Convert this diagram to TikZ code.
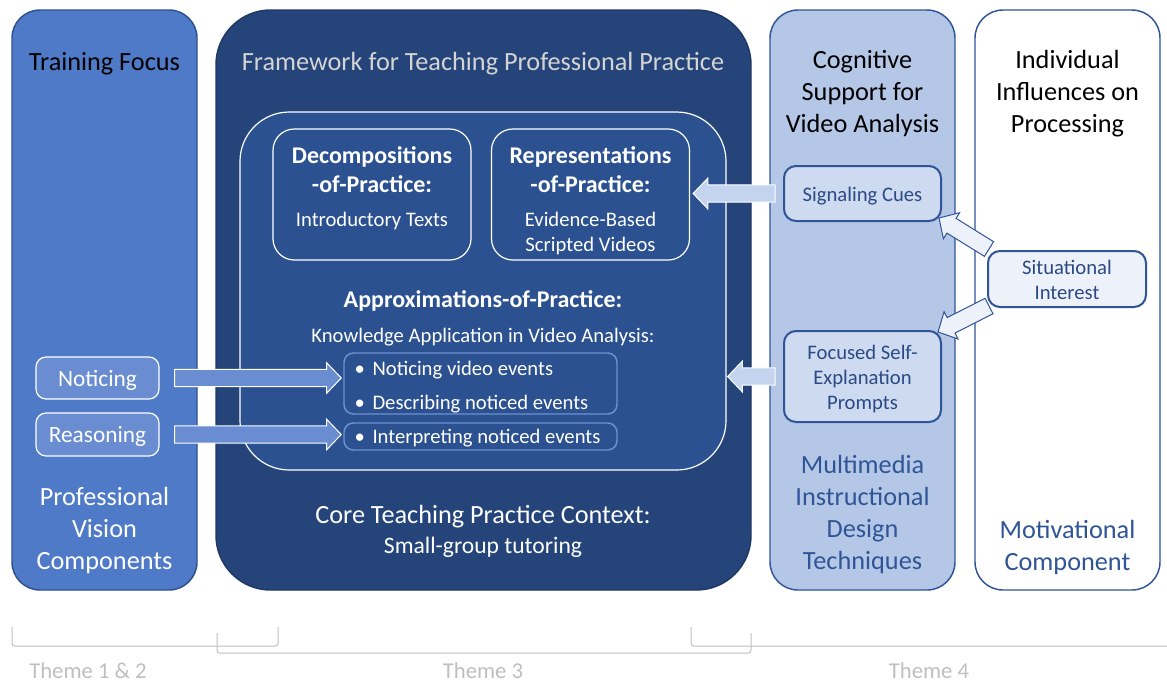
\documentclass[tikz,border=0pt]{standalone}
\usepackage{fontspec}
\setmainfont{Carlito}
\usetikzlibrary{calc}

\definecolor{focusfill}{HTML}{4F7AC7}
\definecolor{focusline}{HTML}{2F528F}
\definecolor{frameworkfill}{HTML}{25457A}
\definecolor{frameworkline}{HTML}{1F3864}
\definecolor{corefill}{HTML}{2C5190}
\definecolor{bulletline}{HTML}{6E91D2}
\definecolor{pvfill}{HTML}{698DD0}
\definecolor{cogfill}{HTML}{B4C7E7}
\definecolor{cogline}{HTML}{2F5597}
\definecolor{cuefill}{HTML}{CDDAF0}
\definecolor{cuearrow}{HTML}{C5D4EE}
\definecolor{interestfill}{HTML}{EDF1F9}
\definecolor{cuetext}{HTML}{2B4A85}
\definecolor{titlegray}{HTML}{D4D4D4}
\definecolor{themegray}{HTML}{BFBFBF}

% block arrow from #2 to the tip #3
\newcommand{\fatarrow}[3][]{%
	\coordinate (hb) at ($(#3)!11pt!(#2)$);
	\draw[#1] ($(#2)!6.5pt!90:(#3)$) -- ($(hb)!6.5pt!90:(#3)$) -- ($(hb)!11.5pt!90:(#3)$) -- (#3)
		-- ($(hb)!11.5pt!-90:(#3)$) -- ($(hb)!6.5pt!-90:(#3)$) -- ($(#2)!6.5pt!-90:(#3)$) -- cycle;}

\begin{document}
\begin{tikzpicture}[x=0.75pt,y=-0.75pt]

	\tikzstyle{column}=[rectangle,draw,line width=1.1pt,minimum width=138.75pt,minimum height=435pt,rounded corners=21pt]
	\tikzstyle{title}=[align=center,font=\fontsize{19.7}{24}\selectfont]
	\tikzstyle{subhead}=[align=center,text=white,font=\bfseries\fontsize{18}{21.75}\selectfont]
	\tikzstyle{small}=[align=center,font=\fontsize{15.5}{18.75}\selectfont]
	\tikzstyle{practice}=[rectangle,draw=white,line width=0.9pt,minimum width=148.5pt,minimum height=98.25pt,rounded corners=16pt]
	\tikzstyle{bullets}=[rectangle,draw=bulletline,line width=1.1pt,fill=corefill,rounded corners=7pt,minimum width=204.75pt]
	\tikzstyle{bullettext}=[anchor=west,align=left,text=white,font=\fontsize{15.5}{18.75}\selectfont,inner sep=0pt]
	\tikzstyle{pv}=[rectangle,draw=white,line width=0.9pt,fill=pvfill,rounded corners=7.5pt,minimum width=92.25pt]
	\tikzstyle{pvtext}=[text=white,font=\fontsize{17.5}{21}\selectfont]
	\tikzstyle{support}=[rectangle,draw=cogline,line width=1.5pt,fill=cuefill,rounded corners=9pt,minimum width=117.75pt]
	\tikzstyle{supporttext}=[small,text=cuetext]
	\tikzstyle{theme}=[draw=themegray,line width=0.75pt,rounded corners=2pt]
	\tikzstyle{themetext}=[text=themegray,font=\fontsize{17}{20}\selectfont,inner sep=0pt]

	\useasboundingbox (0,0) rectangle (1167,683);

	% four columns
	\node [column,draw=focusline,fill=focusfill] (focus) at (104.5,300) {};
	\node [column,draw=frameworkline,fill=frameworkfill,minimum width=401.25pt,rounded corners=41pt] (framework) at (483.5,300) {};
	\node [column,draw=cogline,fill=cogfill] (cognitive) at (862.5,300) {};
	\node [column,draw=cogline,fill=white] (individual) at (1067.5,300) {};

	\node [title] (tfocus) at (104.5,64) {Training Focus};
	\node [title,text=white] (pvc) at (104.5,530) {Professional\\Vision\\Components};
	\node [title,text=titlegray] (fwtitle) at (483,64) {Framework for Teaching Professional Practice};
	\node [title] (cogtitle) at (862.5,94) {Cognitive\\Support for\\Video Analysis};
	\node [title,text=cogline] (mmtitle) at (862.5,514.5) {Multimedia\\Instructional\\Design\\Techniques};
	\node [title] (indtitle) at (1067.5,94) {Individual\\Influences on\\Processing};
	\node [title,text=cogline] (mottitle) at (1067.5,547) {Motivational\\Component};

	% teaching practice core
	\node [rectangle,draw=white,line width=0.9pt,fill=corefill,minimum width=364.5pt,minimum height=268.5pt,rounded corners=37pt] (inner) at (483,291) {};
	\node [practice] (decomp) at (372,194.5) {};
	\node [practice] (repr) at (590.5,194.5) {};
	\node [subhead] (decomptext) at (372,170) {Decompositions\\-of-Practice:};
	\node [small,text=white] (introtext) at (372,221) {Introductory Texts};
	\node [subhead] (reprtext) at (590.5,170) {Representations\\-of-Practice:};
	\node [small,text=white] (videotext) at (590.5,233) {Evidence-Based\\Scripted Videos};
	\node [subhead] (approx) at (483,301) {Approximations-of-Practice:};
	\node [small,text=white] (knowledge) at (483,337) {Knowledge Application in Video Analysis:};

	\node [bullets,minimum height=45.75pt] (bul1) at (480.5,383.5) {};
	\node [bullets,minimum height=20.25pt] (bul2) at (480.5,436.5) {};
	\node [bullettext] (bul1text) at ($(bul1.west)+(11,4)$)
		{\makebox[13.5pt][l]{•}Noticing video events\\[6.75pt]\makebox[13.5pt][l]{•}Describing noticed events};
	\node [bullettext] (bul2text) at ($(bul2.west)+(11,2)$)
		{\makebox[13.5pt][l]{•}Interpreting noticed events};

	\node [title,text=white] (core) at (483,517) {Core Teaching Practice Context:};
	\node [title,text=white,font=\fontsize{17.7}{21}\selectfont] (tutoring) at (483,547) {Small-group tutoring};

	% professional vision components
	\node [pv,minimum height=31.5pt] (notice) at (97.5,378) {};
	\node [pv,minimum height=32.25pt] (reason) at (97.5,434.5) {};
	\node [pvtext] (noticetext) at ($(notice)+(0,2)$) {Noticing};
	\node [pvtext] (reasontext) at ($(reason)+(0,2)$) {Reasoning};

	% design techniques and interest
	\node [support,minimum height=41.25pt] (sig) at (862.5,193.5) {};
	\node [support,minimum height=68.25pt] (prompt) at (862.5,376.5) {};
	\node [support,fill=interestfill,minimum width=118.5pt,minimum height=42pt] (sit) at (1067,279) {};
	\node [supporttext] (sigtext) at ($(sig)+(0,3)$) {Signaling Cues};
	\node [supporttext] (prompttext) at ($(prompt)+(0,2)$) {Focused Self-\\Explanation\\Prompts};
	\node [supporttext] (sittext) at ($(sit)+(0,1)$) {Situational\\Interest};

	% arrows
	\coordinate (nA) at ($(notice.east)+(15,0)$);
	\coordinate (nB) at ($(notice.east -| bul1.west)+(-2,0)$);
	\coordinate (rA) at ($(reason.east)+(15,0)$);
	\coordinate (rB) at ($(reason.east -| bul2.west)+(-2,0)$);
	\coordinate (sA) at ($(sig.west)+(-8,0)$);
	\coordinate (sB) at ($(sig.west -| repr.east)+(3,0)$);
	\coordinate (pA) at ($(prompt.west)+(-8,0)$);
	\coordinate (pB) at ($(prompt.west -| inner.east)+(1,0)$);
	\coordinate (iA) at ($(sit.north west)+(2,-1)$);
	\coordinate (iB) at ($(sig.south east)+(-3,-4)$);
	\coordinate (jA) at ($(sit.south west)+(2,-2)$);
	\coordinate (jB) at ($(prompt.north east)+(-4,2)$);

	\fatarrow[draw=white,line width=0.75pt,fill=pvfill]{nA}{nB}
	\fatarrow[draw=white,line width=0.75pt,fill=pvfill]{rA}{rB}
	\fatarrow[draw=white,line width=0.75pt,fill=cuearrow]{sA}{sB}
	\fatarrow[draw=white,line width=0.75pt,fill=cuearrow]{pA}{pB}
	\fatarrow[draw=cogline,line width=0.75pt,fill=interestfill]{iA}{iB}
	\fatarrow[draw=cogline,line width=0.75pt,fill=interestfill]{jA}{jB}

	% themes
	\draw [theme] (12,627) -- (12,646) -- (278,646) -- (278,627);
	\draw [theme] (217,633) -- (217,653) -- (751,653) -- (751,633);
	\draw [theme] (691,627) -- (691,646) -- (1170,646);
	\node [themetext] (theme12) at (88,671) {Theme 1 \& 2};
	\node [themetext] (theme3) at (483,671) {Theme 3};
	\node [themetext] (theme4) at (929,671) {Theme 4};

\end{tikzpicture}
\end{document}
